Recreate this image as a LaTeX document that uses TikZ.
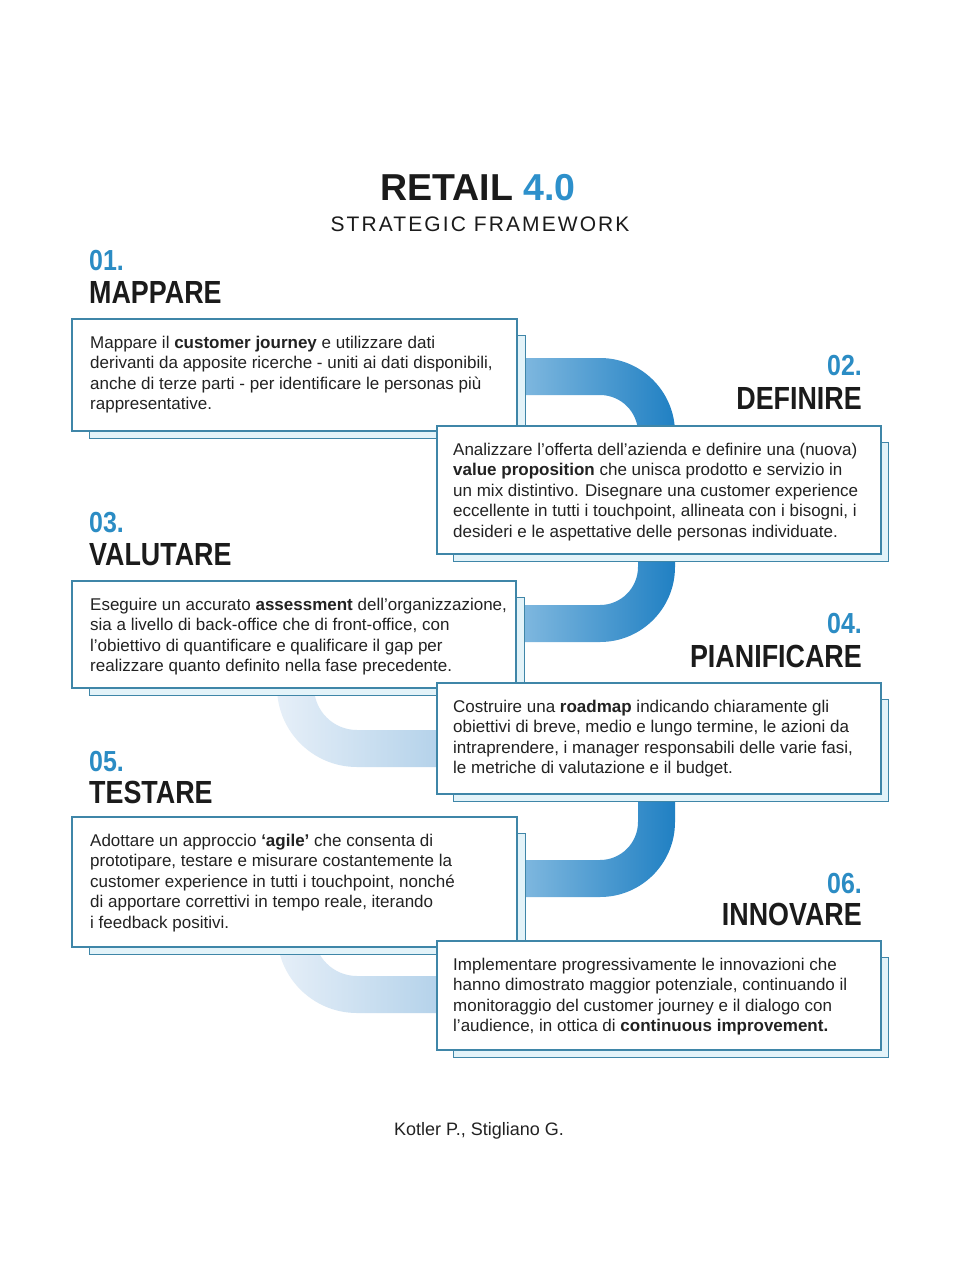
\documentclass[tikz,border=0pt]{standalone}
\usepackage{fontspec}
\setmainfont{Liberation Sans}
\newfontfamily\headfont[FakeStretch=0.84]{Liberation Sans}
\newfontfamily\numfont[FakeStretch=0.86]{Liberation Sans}
\newfontfamily\spacedfont[LetterSpace=10]{Liberation Sans}
\definecolor{numblue}{HTML}{2B8CC4}
\definecolor{titleblue}{HTML}{2D90CB}
\definecolor{boxline}{HTML}{3F86A8}
\definecolor{backfill}{HTML}{E3F3F9}
\definecolor{bandL}{HTML}{8DC0E3}
\definecolor{bandR}{HTML}{2080C3}
\definecolor{paleL}{HTML}{E6EFF8}
\definecolor{paleR}{HTML}{B4D2EA}
\definecolor{txt}{HTML}{222222}
\definecolor{headtxt}{HTML}{1B1B1B}
\begin{document}
\begin{tikzpicture}[x=1pt,y=-1pt,
  frontbox/.style={draw=boxline, line width=1.6pt, fill=white, rectangle, inner sep=0pt, anchor=north west},
  backbox/.style={draw=boxline, line width=1.3pt, fill=backfill, rectangle, inner sep=0pt, anchor=north west},
  body/.style={anchor=north west, inner sep=0pt, align=left, font=\fontsize{17}{20.5}\selectfont, text=txt},
  num/.style={font=\numfont\bfseries\fontsize{29}{29}\selectfont, text=numblue, inner sep=0pt},
  head/.style={font=\headfont\bfseries\fontsize{32}{32}\selectfont, text=headtxt, inner sep=0pt},
  band/.style={left color=bandL, right color=bandR},
  paleband/.style={left color=paleL, right color=paleR}
]
\useasboundingbox (0,0) rectangle (960,1280);
\fill[white] (0,0) rectangle (960,1280);

% title
\node[anchor=base, inner sep=0pt, text=headtxt] (title) at (478,200) {\fontsize{37.5}{40}\selectfont\bfseries RETAIL \textcolor{titleblue}{4.0}};
\node[anchor=base, inner sep=0pt, text=headtxt] (sub) at (480,231) {\spacedfont\fontsize{21}{24}\selectfont STRATEGIC FRAMEWORK};

% bands (connectors)
\shade[band] (500,358) -- (600,358) arc[start angle=-90,end angle=0,radius=75] -- (675,567)
  arc[start angle=0,end angle=90,radius=75] -- (500,642) -- (500,605) -- (600,605)
  arc[start angle=90,end angle=0,radius=38] -- (638,433)
  arc[start angle=0,end angle=-90,radius=38] -- (500,395) -- cycle;
\shade[band] (638,700) -- (675,700) -- (675,822) arc[start angle=0,end angle=90,radius=75]
  -- (500,897) -- (500,860) -- (600,860) arc[start angle=90,end angle=0,radius=38] -- cycle;
\shade[paleband] (277,600) -- (277,687) arc[start angle=180,end angle=90,radius=80]
  -- (440,767) -- (440,730) -- (357,730) arc[start angle=90,end angle=180,radius=43] -- (314,600) -- cycle;
\shade[paleband] (277,846) -- (277,933) arc[start angle=180,end angle=90,radius=80]
  -- (440,1013) -- (440,976) -- (357,976) arc[start angle=90,end angle=180,radius=43] -- (314,846) -- cycle;

% headings
\node[num, anchor=base west] (n1) at (89,270) {01.};
\node[head, anchor=base west] (h1) at (89,303) {MAPPARE};
\node[num, anchor=base east] (n2) at (862,375) {02.};
\node[head, anchor=base east] (h2) at (862,409) {DEFINIRE};
\node[num, anchor=base west] (n3) at (89,532) {03.};
\node[head, anchor=base west] (h3) at (89,565) {VALUTARE};
\node[num, anchor=base east] (n4) at (862,633) {04.};
\node[head, anchor=base east] (h4) at (862,667) {PIANIFICARE};
\node[num, anchor=base west] (n5) at (89,771) {05.};
\node[head, anchor=base west] (h5) at (89,803) {TESTARE};
\node[num, anchor=base east] (n6) at (862,893) {06.};
\node[head, anchor=base east] (h6) at (862,925) {INNOVARE};

% box 1
\node[backbox, minimum width=436, minimum height=103] (k1) at (89,335) {};
\node[frontbox, minimum width=445, minimum height=112] (f1) at (71,318) {};
\node[body] (t1) at (90,333.65) {\strut Mappare il \textbf{customer journey} e utilizzare dati\\
derivanti da apposite ricerche - uniti ai dati disponibili,\\
anche di terze parti - per identificare le personas più\\
rappresentative.};

% box 2
\node[backbox, minimum width=435, minimum height=119] (k2) at (453,442) {};
\node[frontbox, minimum width=444, minimum height=128] (f2) at (436,425) {};
\node[body] (t2) at (453,440.65) {\strut Analizzare l’offerta dell’azienda e definire una (nuova)\\
\textbf{value proposition} che unisca prodotto e servizio in\\
un mix distintivo. Disegnare una customer experience\\
eccellente in tutti i touchpoint, allineata con i bisogni, i\\
desideri e le aspettative delle personas individuate.};

% box 3
\node[backbox, minimum width=435, minimum height=98] (k3) at (89,597) {};
\node[frontbox, minimum width=444, minimum height=107] (f3) at (71,580) {};
\node[body] (t3) at (90,595.65) {\strut Eseguire un accurato \textbf{assessment} dell’organizzazione,\\
sia a livello di back-office che di front-office, con\\
l’obiettivo di quantificare e qualificare il gap per\\
realizzare quanto definito nella fase precedente.};

% box 4
\node[backbox, minimum width=435, minimum height=102] (k4) at (453,699) {};
\node[frontbox, minimum width=444, minimum height=111] (f4) at (436,682) {};
\node[body] (t4) at (453,697.65) {\strut Costruire una \textbf{roadmap} indicando chiaramente gli\\
obiettivi di breve, medio e lungo termine, le azioni da\\
intraprendere, i manager responsabili delle varie fasi,\\
le metriche di valutazione e il budget.};

% box 5
\node[backbox, minimum width=436, minimum height=121] (k5) at (89,833) {};
\node[frontbox, minimum width=445, minimum height=130] (f5) at (71,816) {};
\node[body] (t5) at (90,831.65) {\strut Adottare un approccio \textbf{‘agile’} che consenta di\\
prototipare, testare e misurare costantemente la\\
customer experience in tutti i touchpoint, nonché\\
di apportare correttivi in tempo reale, iterando\\
i feedback positivi.};

% box 6
\node[backbox, minimum width=435, minimum height=100] (k6) at (453,957) {};
\node[frontbox, minimum width=444, minimum height=109] (f6) at (436,940) {};
\node[body] (t6) at (453,955.65) {\strut Implementare progressivamente le innovazioni che\\
hanno dimostrato maggior potenziale, continuando il\\
monitoraggio del customer journey e il dialogo con\\
l’audience, in ottica di \textbf{continuous improvement.}};

% footer
\node[anchor=base, inner sep=0pt, text=txt] (foot) at (479,1135) {\fontsize{18}{20}\selectfont Kotler P., Stigliano G.};
\end{tikzpicture}
\end{document}
